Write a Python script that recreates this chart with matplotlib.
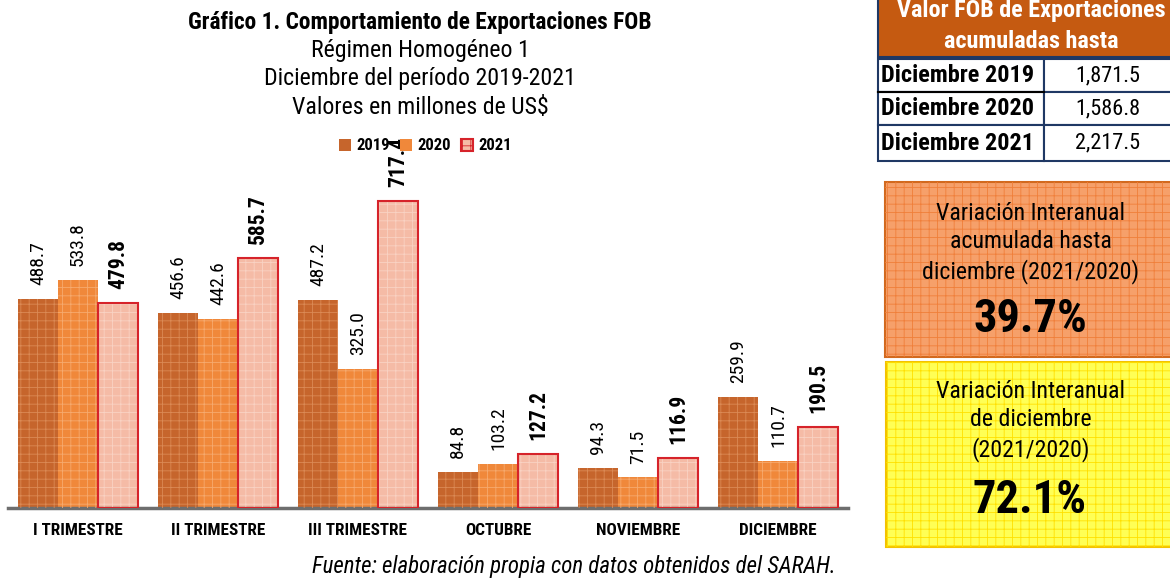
import matplotlib
matplotlib.use("Agg")
import matplotlib.pyplot as plt
from matplotlib import font_manager
from matplotlib.patches import Rectangle, Patch
import numpy as np

# data
categories = ["I TRIMESTRE", "II TRIMESTRE", "III TRIMESTRE", "OCTUBRE", "NOVIEMBRE", "DICIEMBRE"]
years = ["2019", "2020", "2021"]
v2019 = [488.7, 456.6, 487.2, 84.8, 94.3, 259.9]
v2020 = [533.8, 442.6, 325.0, 103.2, 71.5, 110.7]
v2021 = [479.8, 585.7, 717.4, 127.2, 116.9, 190.5]

table_header = "Valor FOB de Exportaciones\nacumuladas hasta"
table_rows = ["Diciembre 2019", "Diciembre 2020", "Diciembre 2021"]
table_vals = ["1,871.5", "1,586.8", "2,217.5"]

var_acum_text = "Variación Interanual\nacumulada hasta\ndiciembre (2021/2020)"
var_acum = "39.7%"
var_dic_text = "Variación Interanual\nde diciembre\n(2021/2020)"
var_dic = "72.1%"

# narrow sans like the original Arial Narrow, if there is one
installed = {f.name for f in font_manager.fontManager.ttflist}
NARROW = next((n for n in ["Roboto Condensed", "Liberation Sans Narrow", "Fira Sans Condensed"]
               if n in installed), "Liberation Sans")
plt.rcParams["font.family"] = [NARROW, "DejaVu Sans"]
plt.rcParams["hatch.linewidth"] = 0.6

W, H = 1170, 578
fig = plt.figure(figsize=(W / 100, H / 100), dpi=100)

# main bar axes: baseline at y=508px, 140px per category
ax = fig.add_axes([8 / W, (H - 508) / H, 840 / W, 342 / H])
ax.set_xlim(-0.5, len(categories) - 0.5)
ax.set_ylim(0, 800)

x = np.arange(len(categories))
bw = 0.286
styles = [
    dict(face="#C6652C", hatch_col="#DB8A55", edge="none", lw=0),
    dict(face="#F0883A", hatch_col="#F6AA6E", edge="none", lw=0),
    dict(face="#F5BBA6", hatch_col="#F9D2C3", edge="#D6232A", lw=1.5),
]
series = [v2019, v2020, v2021]
for i, (vals, st) in enumerate(zip(series, styles)):
    pos = x + (i - 1) * bw
    ax.bar(pos, vals, width=bw - 0.006, color=st["face"], edgecolor="none", zorder=2)
    ax.bar(pos, vals, width=bw - 0.006, fill=False, hatch="++", edgecolor=st["hatch_col"],
           linewidth=0, zorder=3)
    if st["lw"]:
        ax.bar(pos, vals, width=bw - 0.006, fill=False, edgecolor=st["edge"],
               linewidth=st["lw"], zorder=4)
    for xp, v in zip(pos, vals):
        bold = i == 2
        ax.annotate(f"{v:.1f}", (xp, v), xytext=(0, 10), textcoords="offset points",
                    rotation=90, ha="center", va="bottom",
                    fontsize=15.5 if bold else 14, fontweight="bold" if bold else "normal",
                    color="black", zorder=5)

for s in ["top", "right", "left"]:
    ax.spines[s].set_visible(False)
ax.spines["bottom"].set_color("#6E6E6E")
ax.spines["bottom"].set_linewidth(2.5)
ax.set_yticks([])
ax.set_xticks(x)
ax.set_xticklabels(categories, fontsize=12.3, fontweight="bold")
ax.tick_params(axis="x", length=0, pad=11)

handles = [Patch(facecolor=st["face"], edgecolor=st["edge"] if st["lw"] else st["face"],
                 hatch="++", linewidth=st["lw"]) for st in styles]
fig.legend(handles, years, loc="center", bbox_to_anchor=(425 / W, 1 - 146 / H), ncol=3,
           frameon=False, handlelength=0.75, handleheight=0.75, handletextpad=0.3,
           columnspacing=0.6, prop={"weight": "bold", "size": 12})

# titles
fig.text(420 / W, 1 - 22 / H, "Gráfico 1. Comportamiento de Exportaciones FOB",
         ha="center", va="center", fontsize=16.8, fontweight="bold")
for yy, t in zip([50, 79, 108], ["Régimen Homogéneo 1", "Diciembre del período 2019-2021",
                                 "Valores en millones de US$"]):
    fig.text(420 / W, 1 - yy / H, t, ha="center", va="center", fontsize=17.2)

fig.text(574 / W, 1 - 567 / H, "Fuente: elaboración propia con datos obtenidos del SARAH.",
         ha="center", va="center", fontsize=16.5, style="italic")

# overlay axes in pixel coordinates for the table and boxes
ov = fig.add_axes([0, 0, 1, 1], zorder=10)
ov.set_xlim(0, W)
ov.set_ylim(H, 0)
ov.set_axis_off()
ov.patch.set_alpha(0)

navy = "#1F3864"
ov.add_patch(Rectangle((878, -5), 300, 62, facecolor="#C55A11", edgecolor=navy, lw=1.5))
ov.text(1031, 26, table_header, ha="center", va="center", color="white",
        fontsize=17.4, fontweight="bold", linespacing=1.4)
row_y = [59, 92, 125]
row_h = [33, 33, 36]
for ry, rh, name, val in zip(row_y, row_h, table_rows, table_vals):
    ov.add_patch(Rectangle((878, ry), 166, rh, facecolor="white", edgecolor=navy, lw=1.5))
    ov.add_patch(Rectangle((1044, ry), 130, rh, facecolor="white", edgecolor=navy, lw=1.5))
    ov.text(881, ry + rh / 2, name, ha="left", va="center", fontsize=17.5, fontweight="bold")
    ov.text(1108, ry + rh / 2, val, ha="center", va="center", fontsize=16)
ov.plot([878, 1044], [92, 92], color="black", lw=1.5)

# variation boxes
ov.add_patch(Rectangle((885, 182), 290, 175, facecolor="#F6A06A", edgecolor="#D2691E",
                       lw=1.5))
ov.add_patch(Rectangle((885, 182), 290, 175, fill=False, edgecolor="#F07F3A", lw=0, hatch="++"))
ov.text(1031, 243, var_acum_text, ha="center", va="center", fontsize=17.2, linespacing=1.27)
ov.text(1030, 319, var_acum, ha="center", va="center", fontsize=33.5, fontweight="bold")

ov.add_patch(Rectangle((886, 362), 290, 185, facecolor="#FFFF55", edgecolor="#F2C200", lw=1.5))
ov.add_patch(Rectangle((886, 362), 290, 185, fill=False, edgecolor="#FFE000", lw=0, hatch="++"))
ov.text(1031, 421, var_dic_text, ha="center", va="center", fontsize=17.2, linespacing=1.27)
ov.text(1030, 500, var_dic, ha="center", va="center", fontsize=33.5, fontweight="bold")

fig.savefig("out.png", dpi=100)
